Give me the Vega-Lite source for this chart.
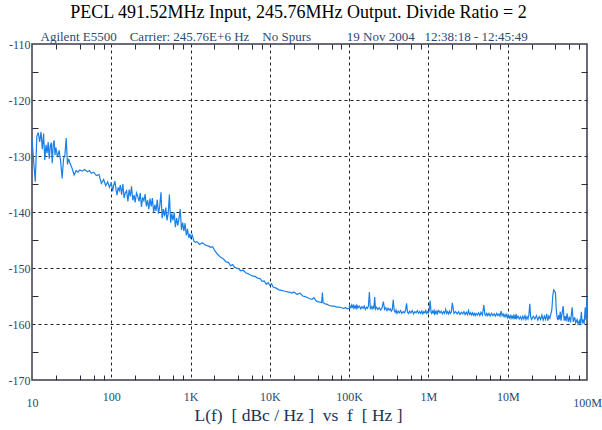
{
  "$schema": "https://vega.github.io/schema/vega-lite/v6.json",
  "width": 555,
  "height": 336,
  "autosize": {"type": "none"},
  "padding": {"left": 32, "top": 44, "right": 15, "bottom": 50},
  "background": "white",
  "title": {
    "text": "PECL 491.52MHz Input, 245.76MHz Output. Divide Ratio = 2",
    "font": "Liberation Serif",
    "fontSize": 18,
    "fontWeight": "normal",
    "color": "#000000",
    "anchor": "middle",
    "dx": -11,
    "offset": 8
  },
  "data": {
    "values": [
      {"f": 10, "L": -127}, {"f": 10.5, "L": -131}, {"f": 11, "L": -134.6}, {"f": 11.5, "L": -126.5}, {"f": 12, "L": -125.8}, {"f": 12.5, "L": -127.5}, {"f": 13, "L": -125.7}, {"f": 13.5, "L": -128.8}, {"f": 14, "L": -126}, {"f": 14.5, "L": -130.7}, {"f": 15, "L": -128}, {"f": 15.5, "L": -129.5}, {"f": 16, "L": -127.5}, {"f": 16.5, "L": -130.5}, {"f": 17, "L": -128.2}, {"f": 17.5, "L": -127.6}, {"f": 18, "L": -131.3}, {"f": 18.5, "L": -128}, {"f": 19, "L": -127.2}, {"f": 19.5, "L": -129.8}, {"f": 20, "L": -128.5}, {"f": 21, "L": -130.2}, {"f": 22, "L": -129}, {"f": 23, "L": -131}, {"f": 24, "L": -134}, {"f": 25, "L": -130.5}, {"f": 26, "L": -129.8}, {"f": 27, "L": -126.8}, {"f": 28, "L": -131.5}, {"f": 29, "L": -130.5}, {"f": 30, "L": -131.2}, {"f": 32, "L": -132.2}, {"f": 34, "L": -133.4}, {"f": 36, "L": -132.6}, {"f": 38, "L": -132.9}, {"f": 40, "L": -132.5}, {"f": 43, "L": -132.7}, {"f": 46, "L": -132.4}, {"f": 50, "L": -132.8}, {"f": 53, "L": -132.6}, {"f": 56, "L": -133.1}, {"f": 60, "L": -132.9}, {"f": 65, "L": -133.5}, {"f": 70, "L": -133.3}, {"f": 75, "L": -134.9}, {"f": 80, "L": -134.2}, {"f": 85, "L": -135.3}, {"f": 90, "L": -134.6}, {"f": 95, "L": -135.6},
      {"f": 100, "L": -134.7}, {"f": 104, "L": -136.3}, {"f": 107, "L": -135.3}, {"f": 111, "L": -134.5}, {"f": 115, "L": -136.1}, {"f": 118, "L": -137}, {"f": 122, "L": -135.6}, {"f": 126, "L": -136.2}, {"f": 130, "L": -135.2}, {"f": 135, "L": -136.9}, {"f": 140, "L": -135}, {"f": 145, "L": -137.5}, {"f": 150, "L": -136.6}, {"f": 156, "L": -136.2}, {"f": 162, "L": -138.1}, {"f": 168, "L": -136}, {"f": 174, "L": -137.2}, {"f": 180, "L": -135.4}, {"f": 187, "L": -137.9}, {"f": 194, "L": -137}, {"f": 200, "L": -138.3}, {"f": 208, "L": -136.6}, {"f": 216, "L": -137.2}, {"f": 224, "L": -138.1}, {"f": 232, "L": -136.6}, {"f": 240, "L": -139.1}, {"f": 249, "L": -137.4}, {"f": 258, "L": -138}, {"f": 267, "L": -136.8}, {"f": 277, "L": -139}, {"f": 287, "L": -137.9}, {"f": 297, "L": -139.5}, {"f": 308, "L": -137.6}, {"f": 319, "L": -139}, {"f": 330, "L": -137.5}, {"f": 342, "L": -140.1}, {"f": 354, "L": -138.7}, {"f": 367, "L": -139.8}, {"f": 380, "L": -137.8}, {"f": 394, "L": -140.3}, {"f": 408, "L": -139}, {"f": 423, "L": -136.5}, {"f": 438, "L": -141.1}, {"f": 454, "L": -139.5}, {"f": 470, "L": -140.8}, {"f": 487, "L": -139.2}, {"f": 504, "L": -141.5}, {"f": 522, "L": -140.3}, {"f": 541, "L": -136.9}, {"f": 560, "L": -141.9}, {"f": 580, "L": -140.3}, {"f": 600, "L": -141.5}, {"f": 622, "L": -140.1}, {"f": 644, "L": -142.7}, {"f": 667, "L": -141.1}, {"f": 691, "L": -142.4}, {"f": 716, "L": -141.1}, {"f": 741, "L": -139.5}, {"f": 768, "L": -143.2}, {"f": 795, "L": -141.9}, {"f": 824, "L": -143.4}, {"f": 853, "L": -142}, {"f": 884, "L": -144.2}, {"f": 915, "L": -143}, {"f": 948, "L": -144.6}, {"f": 982, "L": -143.9},
      {"f": 1000, "L": -144.6}, {"f": 1050, "L": -144.1}, {"f": 1100, "L": -145.2}, {"f": 1150, "L": -145.4}, {"f": 1200, "L": -145.3}, {"f": 1300, "L": -145.8}, {"f": 1400, "L": -145.5}, {"f": 1500, "L": -145.8}, {"f": 1600, "L": -146}, {"f": 1700, "L": -146.1}, {"f": 1800, "L": -146.3}, {"f": 1900, "L": -146.2}, {"f": 2000, "L": -146.8}, {"f": 2200, "L": -147.6}, {"f": 2400, "L": -148.1}, {"f": 2600, "L": -148.4}, {"f": 2800, "L": -148.9}, {"f": 3000, "L": -149}, {"f": 3200, "L": -149.6}, {"f": 3400, "L": -149.4}, {"f": 3600, "L": -149.9}, {"f": 3800, "L": -150}, {"f": 4000, "L": -150.1}, {"f": 4300, "L": -150.5}, {"f": 4600, "L": -150.4}, {"f": 5000, "L": -150.9}, {"f": 5300, "L": -151}, {"f": 5600, "L": -151.2}, {"f": 6000, "L": -151.4}, {"f": 6500, "L": -151.5}, {"f": 7000, "L": -151.8}, {"f": 7500, "L": -151.9}, {"f": 8000, "L": -152.4}, {"f": 8500, "L": -152.3}, {"f": 9000, "L": -152.9}, {"f": 9500, "L": -152.6},
      {"f": 10000, "L": -153.1}, {"f": 10500, "L": -152.8}, {"f": 11000, "L": -153.4}, {"f": 12000, "L": -153.6}, {"f": 13000, "L": -153.9}, {"f": 14000, "L": -154}, {"f": 15000, "L": -154.1}, {"f": 16000, "L": -154.2}, {"f": 17000, "L": -154.3}, {"f": 18000, "L": -154.3}, {"f": 19000, "L": -154.5}, {"f": 20000, "L": -154.3}, {"f": 22000, "L": -154.7}, {"f": 24000, "L": -154.5}, {"f": 26000, "L": -155}, {"f": 28000, "L": -155.1}, {"f": 30000, "L": -155.3}, {"f": 32000, "L": -155.5}, {"f": 34000, "L": -155.6}, {"f": 36000, "L": -155.3}, {"f": 38000, "L": -155.8}, {"f": 40000, "L": -156}, {"f": 43000, "L": -156.1}, {"f": 45000, "L": -156.2}, {"f": 46000, "L": -154.4}, {"f": 47000, "L": -156.2}, {"f": 50000, "L": -156.4}, {"f": 53000, "L": -156.5}, {"f": 56000, "L": -156.7}, {"f": 60000, "L": -156.8}, {"f": 65000, "L": -156.8}, {"f": 70000, "L": -157}, {"f": 75000, "L": -157}, {"f": 80000, "L": -157.1}, {"f": 85000, "L": -157.2}, {"f": 90000, "L": -157.1}, {"f": 95000, "L": -157.3},
      {"f": 100000, "L": -157.2}, {"f": 102000, "L": -156.7}, {"f": 105000, "L": -157.1}, {"f": 108000, "L": -156.6}, {"f": 110000, "L": -157}, {"f": 113000, "L": -156.7}, {"f": 115000, "L": -157.2}, {"f": 118000, "L": -156.8}, {"f": 120000, "L": -157.1}, {"f": 123000, "L": -156.7}, {"f": 125000, "L": -157.2}, {"f": 128000, "L": -156.8}, {"f": 130000, "L": -157.1}, {"f": 135000, "L": -156.8}, {"f": 140000, "L": -157.3}, {"f": 145000, "L": -156.9}, {"f": 150000, "L": -157.2}, {"f": 155000, "L": -156.8}, {"f": 160000, "L": -157.4}, {"f": 165000, "L": -157}, {"f": 170000, "L": -157.2}, {"f": 175000, "L": -156.8}, {"f": 180000, "L": -154.3}, {"f": 185000, "L": -157.2}, {"f": 190000, "L": -156.9}, {"f": 195000, "L": -157.3}, {"f": 200000, "L": -156.9}, {"f": 205000, "L": -157.3}, {"f": 210000, "L": -155.2}, {"f": 215000, "L": -157.3}, {"f": 220000, "L": -157}, {"f": 230000, "L": -157.4}, {"f": 240000, "L": -157.1}, {"f": 250000, "L": -157.5}, {"f": 260000, "L": -157.1}, {"f": 270000, "L": -156}, {"f": 280000, "L": -157.4}, {"f": 290000, "L": -157.1}, {"f": 300000, "L": -157.6}, {"f": 310000, "L": -157.2}, {"f": 320000, "L": -157.5}, {"f": 330000, "L": -157.3}, {"f": 340000, "L": -157.7}, {"f": 350000, "L": -157.4}, {"f": 360000, "L": -155.7}, {"f": 370000, "L": -157.6}, {"f": 380000, "L": -157.9}, {"f": 390000, "L": -157.5}, {"f": 400000, "L": -158.1}, {"f": 415000, "L": -157.7}, {"f": 430000, "L": -158}, {"f": 445000, "L": -157.6}, {"f": 460000, "L": -158.1}, {"f": 480000, "L": -157.8}, {"f": 500000, "L": -158}, {"f": 515000, "L": -157.5}, {"f": 530000, "L": -156.3}, {"f": 545000, "L": -157.9}, {"f": 560000, "L": -158.1}, {"f": 580000, "L": -157.7}, {"f": 600000, "L": -158}, {"f": 625000, "L": -157.6}, {"f": 650000, "L": -158.2}, {"f": 675000, "L": -157.8}, {"f": 700000, "L": -158}, {"f": 725000, "L": -157.6}, {"f": 750000, "L": -158.1}, {"f": 775000, "L": -157.8}, {"f": 800000, "L": -158.1}, {"f": 825000, "L": -157.7}, {"f": 850000, "L": -158.2}, {"f": 875000, "L": -157.8}, {"f": 900000, "L": -158}, {"f": 925000, "L": -157.6}, {"f": 950000, "L": -158.1}, {"f": 975000, "L": -157.8},
      {"f": 1000000, "L": -158}, {"f": 1020000, "L": -157.7}, {"f": 1050000, "L": -155.8}, {"f": 1080000, "L": -157.9}, {"f": 1100000, "L": -158.1}, {"f": 1130000, "L": -157.7}, {"f": 1150000, "L": -158}, {"f": 1180000, "L": -157.6}, {"f": 1200000, "L": -158.2}, {"f": 1230000, "L": -157.8}, {"f": 1250000, "L": -158.1}, {"f": 1280000, "L": -157.7}, {"f": 1300000, "L": -158.1}, {"f": 1350000, "L": -157.6}, {"f": 1400000, "L": -158}, {"f": 1450000, "L": -157.7}, {"f": 1500000, "L": -158.2}, {"f": 1550000, "L": -157.8}, {"f": 1600000, "L": -158.1}, {"f": 1650000, "L": -157.4}, {"f": 1700000, "L": -158.1}, {"f": 1750000, "L": -157.8}, {"f": 1800000, "L": -158.2}, {"f": 1850000, "L": -157.7}, {"f": 1900000, "L": -158.1}, {"f": 1950000, "L": -157.8}, {"f": 2000000, "L": -156.2}, {"f": 2100000, "L": -158.1}, {"f": 2200000, "L": -157.8}, {"f": 2300000, "L": -158.2}, {"f": 2400000, "L": -157.8}, {"f": 2500000, "L": -158.3}, {"f": 2600000, "L": -157.9}, {"f": 2700000, "L": -158.2}, {"f": 2800000, "L": -157.8}, {"f": 2900000, "L": -158.3}, {"f": 3000000, "L": -157.9}, {"f": 3100000, "L": -158.3}, {"f": 3200000, "L": -157.6}, {"f": 3300000, "L": -158.3}, {"f": 3400000, "L": -158}, {"f": 3500000, "L": -158.4}, {"f": 3600000, "L": -158}, {"f": 3700000, "L": -158.4}, {"f": 3800000, "L": -158.1}, {"f": 3900000, "L": -158.5}, {"f": 4000000, "L": -158.1}, {"f": 4150000, "L": -158.4}, {"f": 4300000, "L": -158}, {"f": 4450000, "L": -158.5}, {"f": 4600000, "L": -157.9}, {"f": 4800000, "L": -158.4}, {"f": 5000000, "L": -156.6}, {"f": 5150000, "L": -158.3}, {"f": 5300000, "L": -158.5}, {"f": 5450000, "L": -158.1}, {"f": 5600000, "L": -158.5}, {"f": 5800000, "L": -158.1}, {"f": 6000000, "L": -158.6}, {"f": 6250000, "L": -158.1}, {"f": 6500000, "L": -158.5}, {"f": 6750000, "L": -158.2}, {"f": 7000000, "L": -158.6}, {"f": 7250000, "L": -158.1}, {"f": 7500000, "L": -158.5}, {"f": 7750000, "L": -158.2}, {"f": 8000000, "L": -158.6}, {"f": 8250000, "L": -157.7}, {"f": 8500000, "L": -158.5}, {"f": 8750000, "L": -158.2}, {"f": 9000000, "L": -158.7}, {"f": 9250000, "L": -158.3}, {"f": 9500000, "L": -158.7}, {"f": 9750000, "L": -158.3},
      {"f": 10000000, "L": -158.9}, {"f": 10250000, "L": -158.5}, {"f": 10500000, "L": -158.9}, {"f": 10750000, "L": -158.5}, {"f": 11000000, "L": -159}, {"f": 11250000, "L": -158.6}, {"f": 11500000, "L": -158.9}, {"f": 11750000, "L": -158.5}, {"f": 12000000, "L": -159}, {"f": 12250000, "L": -158.6}, {"f": 12500000, "L": -159.1}, {"f": 12750000, "L": -158.2}, {"f": 13000000, "L": -159}, {"f": 13500000, "L": -158.6}, {"f": 14000000, "L": -159.1}, {"f": 14500000, "L": -158.7}, {"f": 15000000, "L": -159.2}, {"f": 15500000, "L": -158.6}, {"f": 16000000, "L": -159.1}, {"f": 16500000, "L": -158.5}, {"f": 17000000, "L": -159.2}, {"f": 17500000, "L": -158.7}, {"f": 18000000, "L": -159.1}, {"f": 18500000, "L": -158.4}, {"f": 19000000, "L": -156.4}, {"f": 19500000, "L": -158.8}, {"f": 20000000, "L": -159.2}, {"f": 21000000, "L": -158.6}, {"f": 22000000, "L": -159.1}, {"f": 23000000, "L": -158.5}, {"f": 24000000, "L": -159.3}, {"f": 25000000, "L": -158.7}, {"f": 26000000, "L": -159.2}, {"f": 27000000, "L": -158.4}, {"f": 28000000, "L": -159.3}, {"f": 29000000, "L": -158.6}, {"f": 30000000, "L": -159.2}, {"f": 31000000, "L": -158.2}, {"f": 32000000, "L": -159.4}, {"f": 33000000, "L": -158.6}, {"f": 34000000, "L": -159}, {"f": 35000000, "L": -158.2}, {"f": 36000000, "L": -157.5}, {"f": 37000000, "L": -155}, {"f": 38000000, "L": -153.9}, {"f": 39000000, "L": -154.1}, {"f": 40000000, "L": -154.4}, {"f": 41000000, "L": -157.5}, {"f": 42000000, "L": -158.9}, {"f": 43000000, "L": -159.3}, {"f": 44000000, "L": -158.4}, {"f": 45000000, "L": -159.2}, {"f": 46000000, "L": -157.8}, {"f": 47000000, "L": -159.4}, {"f": 48000000, "L": -158.5}, {"f": 50000000, "L": -156.8}, {"f": 51500000, "L": -159.4}, {"f": 53000000, "L": -158.6}, {"f": 54500000, "L": -159.5}, {"f": 56000000, "L": -158.1}, {"f": 58000000, "L": -159.6}, {"f": 60000000, "L": -158.7}, {"f": 62000000, "L": -159.7}, {"f": 65000000, "L": -157}, {"f": 67000000, "L": -159.6}, {"f": 70000000, "L": -158.8}, {"f": 72000000, "L": -159.8}, {"f": 75000000, "L": -159.2}, {"f": 77000000, "L": -160}, {"f": 80000000, "L": -159.4}, {"f": 82000000, "L": -160.2}, {"f": 85000000, "L": -157.8}, {"f": 87000000, "L": -159.9}, {"f": 90000000, "L": -159.2}, {"f": 92000000, "L": -160}, {"f": 95000000, "L": -157}, {"f": 97000000, "L": -159.3}, {"f": 100000000, "L": -155.5}
    ]
  },
  "layer": [
    {
      "mark": {"type": "line", "color": "#1a7fe6", "strokeWidth": 1.2, "clip": true},
      "encoding": {
        "x": {
          "field": "f",
          "type": "quantitative",
          "scale": {"type": "log", "domain": [10, 100000000], "nice": false},
          "axis": {
            "orient": "bottom",
            "values": [10, 20, 40, 60, 80, 100, 200, 400, 600, 800, 1000, 2000, 4000, 6000, 8000, 10000, 20000, 40000, 60000, 80000, 100000, 200000, 400000, 600000, 800000, 1000000, 2000000, 4000000, 6000000, 8000000, 10000000, 20000000, 40000000, 60000000, 80000000, 100000000],
            "labelExpr": "datum.value==10?'10':datum.value==100?'100':datum.value==1000?'1K':datum.value==10000?'10K':datum.value==100000?'100K':datum.value==1000000?'1M':datum.value==10000000?'10M':datum.value==100000000?'100M':''",
            "labelOverlap": false,
            "labelFlush": false,
            "labelFont": "Liberation Serif",
            "labelFontSize": 12,
            "labelColor": "#284870",
            "labelPadding": {"condition": {"test": "datum.value==10 || datum.value==100000000", "value": 22}, "value": 16},
            "domain": false,
            "grid": true,
            "gridColor": "#222222",
            "gridDash": [3, 3],
            "gridWidth": 1,
            "gridOpacity": {"condition": {"test": "indexof([100,1000,10000,100000,1000000,10000000], datum.value) >= 0", "value": 1}, "value": 0},
            "ticks": true,
            "tickSize": -5,
            "tickColor": "#2a2a40",
            "tickWidth": 1,
            "tickOpacity": {"condition": {"test": "indexof([10,100,1000,10000,100000,1000000,10000000,100000000], datum.value) >= 0", "value": 0}, "value": 1},
            "title": "L(f)\u00a0\u00a0[\u00a0dBc\u00a0/\u00a0Hz\u00a0]\u00a0\u00a0vs\u00a0\u00a0f\u00a0\u00a0[\u00a0Hz\u00a0]",
            "titleFont": "Liberation Serif",
            "titleFontSize": 17.5,
            "titleFontWeight": "normal",
            "titleColor": "#1a3358",
            "titleX": 266,
            "titleY": 40,
            "titleAlign": "center",
            "titleBaseline": "alphabetic"
          }
        },
        "y": {
          "field": "L",
          "type": "quantitative",
          "scale": {"domain": [-170, -110], "nice": false, "zero": false},
          "axis": {
            "orient": "left",
            "values": [-170, -165, -160, -155, -150, -145, -140, -135, -130, -125, -120, -115, -110],
            "labelExpr": "datum.value % 10 == 0 ? '' + datum.value : ''",
            "labelFont": "Liberation Serif",
            "labelFontSize": 12,
            "labelColor": "#284870",
            "labelPadding": 8,
            "labelOverlap": false,
            "labelFlush": false,
            "domain": false,
            "grid": true,
            "gridColor": "#222222",
            "gridDash": [3, 3],
            "gridWidth": 1,
            "gridOpacity": {"condition": {"test": "indexof([-160,-150,-140,-130,-120], datum.value) >= 0", "value": 1}, "value": 0},
            "ticks": true,
            "tickSize": -6,
            "tickColor": "#2a2a40",
            "tickWidth": 1,
            "tickOpacity": {"condition": {"test": "datum.value % 10 == 0", "value": 0}, "value": 1},
            "title": null
          }
        }
      }
    },
    {
      "mark": {"type": "line", "opacity": 0},
      "encoding": {
        "x": {
          "field": "f",
          "type": "quantitative",
          "scale": {"type": "log", "domain": [10, 100000000], "nice": false},
          "axis": {
            "orient": "top",
            "values": [20, 40, 60, 80, 200, 400, 600, 800, 2000, 4000, 6000, 8000, 20000, 40000, 60000, 80000, 200000, 400000, 600000, 800000, 2000000, 4000000, 6000000, 8000000, 20000000, 40000000, 60000000, 80000000],
            "labels": false,
            "domain": false,
            "grid": false,
            "ticks": true,
            "tickSize": -5,
            "tickColor": "#2a2a40",
            "tickWidth": 1,
            "title": "Agilent E5500\u00a0\u00a0\u00a0\u00a0Carrier: 245.76E+6 Hz\u00a0\u00a0\u00a0\u00a0No Spurs\u00a0\u00a0\u00a0\u00a0\u00a0\u00a0\u00a0\u00a0\u00a0\u00a0\u00a019 Nov 2004\u00a0\u00a0\u00a012:38:18 - 12:45:49",
            "titleFont": "Liberation Serif",
            "titleFontSize": 13,
            "titleFontWeight": "normal",
            "titleColor": "#2b4a72",
            "titleX": 8,
            "titleY": -4,
            "titleAlign": "left",
            "titleBaseline": "alphabetic"
          }
        },
        "y": {
          "field": "L",
          "type": "quantitative",
          "scale": {"domain": [-170, -110], "nice": false, "zero": false},
          "axis": {
            "orient": "right",
            "values": [-165, -155, -145, -135, -125, -115],
            "labels": false,
            "domain": false,
            "grid": false,
            "ticks": true,
            "tickSize": -6,
            "tickColor": "#2a2a40",
            "tickWidth": 1,
            "title": null
          }
        }
      }
    }
  ],
  "resolve": {"axis": {"x": "independent", "y": "independent"}},
  "config": {
    "view": {"stroke": "#3a3a4c", "strokeWidth": 1.5},
    "font": "Liberation Serif"
  }
}
